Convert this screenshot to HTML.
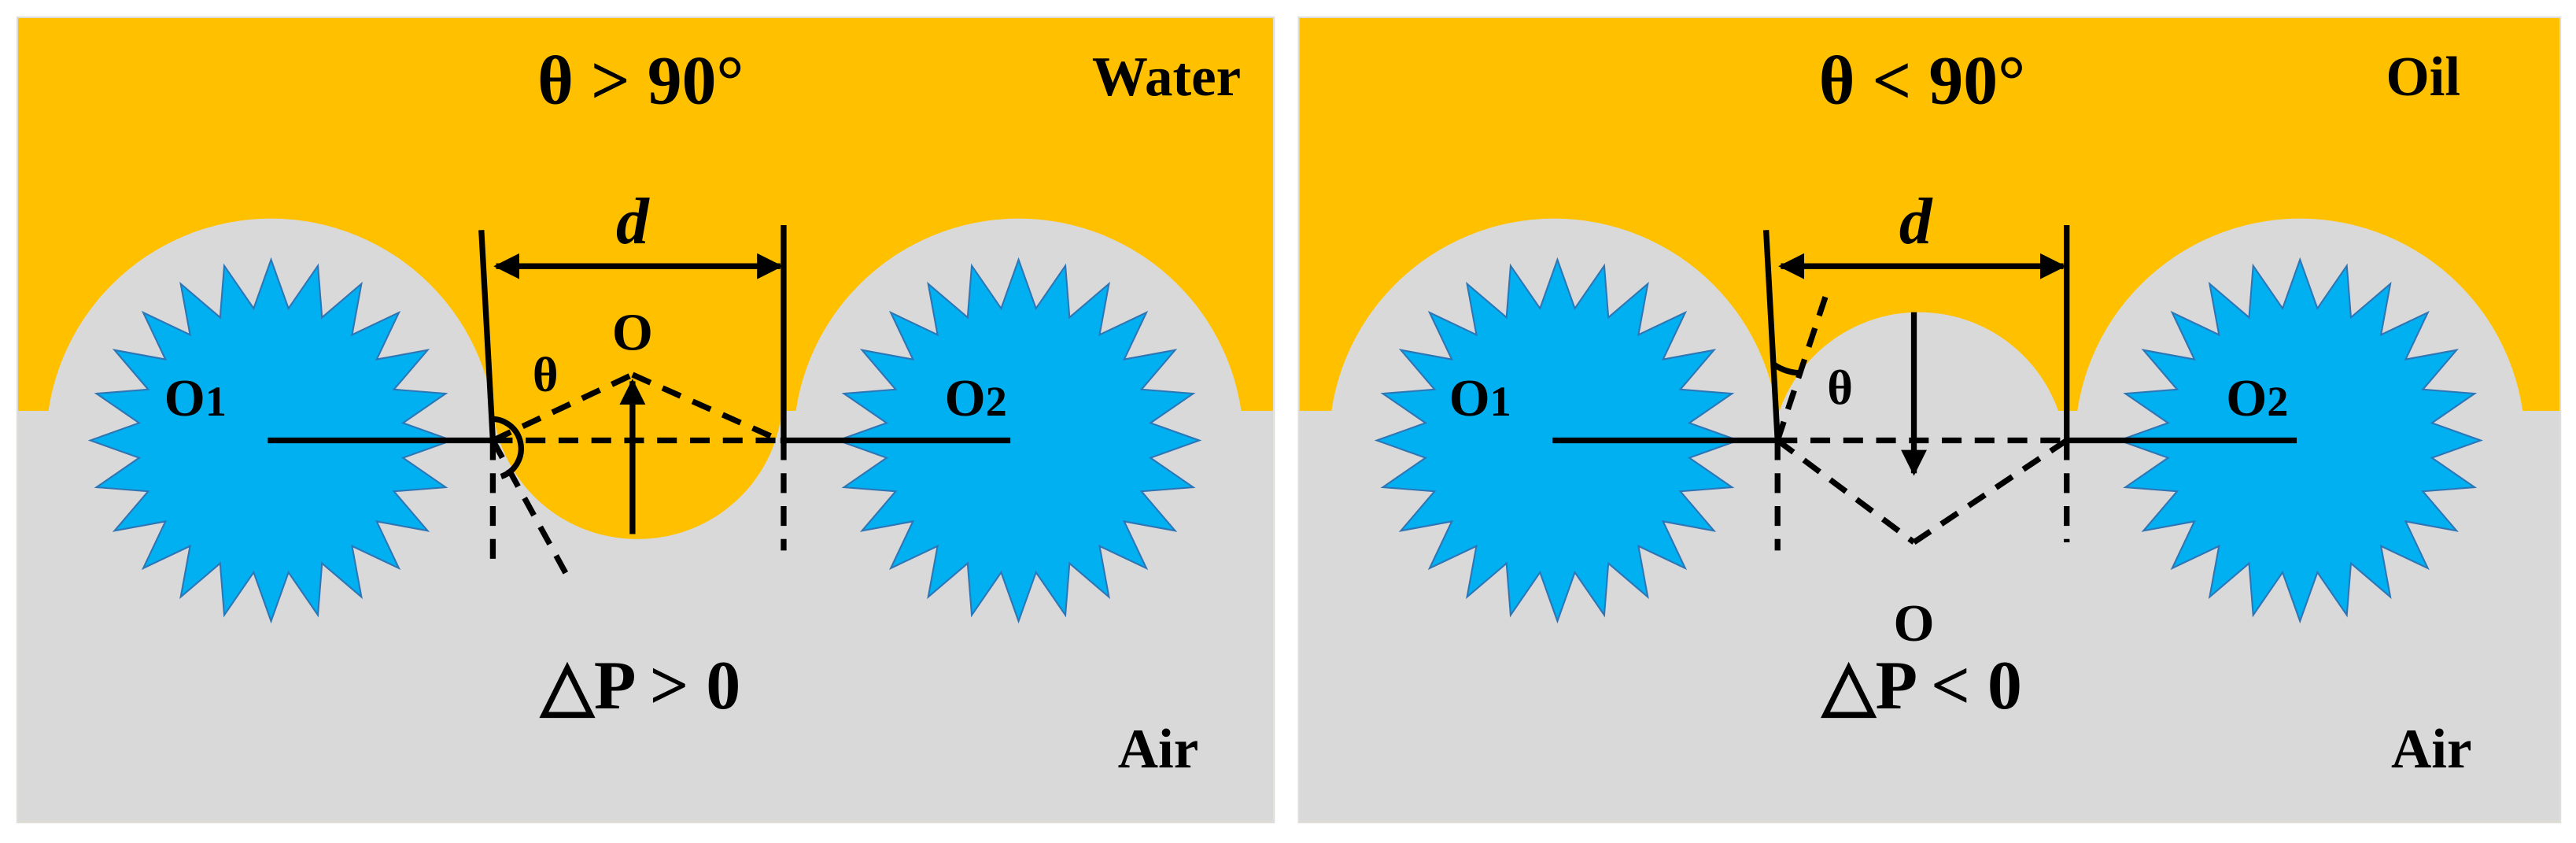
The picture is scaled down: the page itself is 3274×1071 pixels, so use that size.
<!DOCTYPE html>
<html><head><meta charset="utf-8"><style>
html,body{margin:0;padding:0;background:#fff;}
svg{display:block;}
text{font-family:"Liberation Serif",serif;font-weight:bold;fill:#000;}
</style></head><body>
<svg width="3274" height="1071" viewBox="0 0 1568 513" preserveAspectRatio="none" xmlns="http://www.w3.org/2000/svg">
<defs>
<clipPath id="cl"><rect x="10" y="10" width="765" height="490"/></clipPath>
<clipPath id="cr"><rect x="790" y="10" width="768" height="490"/></clipPath>
<marker id="ah" viewBox="0 0 10 10" refX="9" refY="5" markerWidth="4.5" markerHeight="4.5" orient="auto-start-reverse"><path d="M0,0 L10,5 L0,10 z" fill="#000"/></marker>
</defs>
<!-- LEFT PANEL -->
<g clip-path="url(#cl)">
<rect x="10" y="10" width="765" height="490" fill="#ffc000"/>
<rect x="10" y="250" width="765" height="250" fill="#d9d9d9"/>
<circle cx="165" cy="270" r="137" fill="#d9d9d9"/>
<circle cx="620" cy="270" r="137" fill="#d9d9d9"/>
<path d="M300,250 L476,250 A88,88 0 0 1 388,328 A88,88 0 0 1 300,250 z" fill="#ffc000"/>
<circle cx="388" cy="240" r="88" fill="#ffc000"/>
</g>
<rect x="10.5" y="10.5" width="765" height="490" fill="none" stroke="#ddd" stroke-width="1"/>
<polygon class="star" data-c="165,268" fill="#00b0f0" stroke="#2e75b6" stroke-width="1"/>
<polygon class="star" data-c="620,268" fill="#00b0f0" stroke="#2e75b6" stroke-width="1"/>
<g stroke="#000" stroke-width="3.5" fill="none">
<line x1="163" y1="268" x2="300" y2="268"/>
<line x1="475" y1="268" x2="615" y2="268"/>
<line x1="300" y1="268" x2="475" y2="268" stroke-dasharray="12,8"/>
<line x1="293" y1="140" x2="300" y2="268"/>
<line x1="300" y1="268" x2="300" y2="345" stroke-dasharray="12,8"/>
<line x1="477" y1="137" x2="477" y2="268"/>
<line x1="477" y1="268" x2="477" y2="335" stroke-dasharray="12,8"/>
<line x1="302" y1="162" x2="475" y2="162" marker-start="url(#ah)" marker-end="url(#ah)"/>
<line x1="300" y1="268" x2="385" y2="228" stroke-dasharray="12,8"/>
<line x1="385" y1="228" x2="475" y2="268" stroke-dasharray="12,8"/>
<line x1="385" y1="325" x2="385" y2="232" marker-end="url(#ah)"/>
<line x1="300" y1="268" x2="345" y2="350" stroke-dasharray="12,8"/>
<path d="M298,255 A18,18 0 0 1 305,290"/>
</g>
<text x="390" y="63" font-size="42" text-anchor="middle">θ &gt; 90°</text>
<text x="710" y="58" font-size="34" text-anchor="middle">Water</text>
<text x="385" y="148" font-size="40" text-anchor="middle" font-style="italic">d</text>
<text x="385" y="213" font-size="32" text-anchor="middle">O</text>
<text x="332" y="238" font-size="30" text-anchor="middle">θ</text>
<text x="100" y="253" font-size="32">O<tspan font-size="26">1</tspan></text>
<text x="575" y="253" font-size="32">O<tspan font-size="26">2</tspan></text>
<text x="390" y="431" font-size="42" text-anchor="middle">△P &gt; 0</text>
<text x="705" y="467" font-size="34" text-anchor="middle">Air</text>

<!-- RIGHT PANEL -->
<g clip-path="url(#cr)">
<rect x="790" y="10" width="768" height="490" fill="#ffc000"/>
<rect x="790" y="250" width="768" height="250" fill="#d9d9d9"/>
<circle cx="946" cy="270" r="137" fill="#d9d9d9"/>
<circle cx="1400" cy="270" r="137" fill="#d9d9d9"/>
<circle cx="1168" cy="280" r="90" fill="#d9d9d9"/>
</g>
<rect x="790.5" y="10.5" width="768" height="490" fill="none" stroke="#ddd" stroke-width="1"/>
<polygon class="star" data-c="948,268" fill="#00b0f0" stroke="#2e75b6" stroke-width="1"/>
<polygon class="star" data-c="1400,268" fill="#00b0f0" stroke="#2e75b6" stroke-width="1"/>
<g stroke="#000" stroke-width="3.5" fill="none">
<line x1="945" y1="268" x2="1082" y2="268"/>
<line x1="1258" y1="268" x2="1398" y2="268"/>
<line x1="1082" y1="268" x2="1258" y2="268" stroke-dasharray="12,8"/>
<line x1="1075" y1="140" x2="1082" y2="268"/>
<line x1="1082" y1="268" x2="1082" y2="335" stroke-dasharray="12,8"/>
<line x1="1258" y1="137" x2="1258" y2="268"/>
<line x1="1258" y1="268" x2="1258" y2="330" stroke-dasharray="12,8"/>
<line x1="1084" y1="162" x2="1256" y2="162" marker-start="url(#ah)" marker-end="url(#ah)"/>
<line x1="1082" y1="268" x2="1165" y2="330" stroke-dasharray="12,8"/>
<line x1="1165" y1="330" x2="1258" y2="268" stroke-dasharray="12,8"/>
<line x1="1165" y1="190" x2="1165" y2="288" marker-end="url(#ah)"/>
<line x1="1082" y1="268" x2="1113" y2="175" stroke-dasharray="12,8"/>
<path d="M1080,222 A30,30 0 0 0 1097,227"/>
</g>
<text x="1170" y="63" font-size="42" text-anchor="middle">θ &lt; 90°</text>
<text x="1475" y="58" font-size="34" text-anchor="middle">Oil</text>
<text x="1166" y="148" font-size="40" text-anchor="middle" font-style="italic">d</text>
<text x="1165" y="390" font-size="32" text-anchor="middle">O</text>
<text x="1120" y="246" font-size="30" text-anchor="middle">θ</text>
<text x="882" y="253" font-size="32">O<tspan font-size="26">1</tspan></text>
<text x="1355" y="253" font-size="32">O<tspan font-size="26">2</tspan></text>
<text x="1170" y="431" font-size="42" text-anchor="middle">△P &lt; 0</text>
<text x="1480" y="467" font-size="34" text-anchor="middle">Air</text>
</svg>
<script>
document.querySelectorAll('polygon.star').forEach(function(p){
  var c=p.getAttribute('data-c').split(',').map(Number),pts=[],n=24,R=110,r=81;
  for(var i=0;i<2*n;i++){var a=-Math.PI/2+i*Math.PI/n,rr=i%2?r:R;
    pts.push((c[0]+rr*Math.cos(a)).toFixed(1)+','+(c[1]+rr*Math.sin(a)).toFixed(1));}
  p.setAttribute('points',pts.join(' '));
});
</script>
</body></html>
